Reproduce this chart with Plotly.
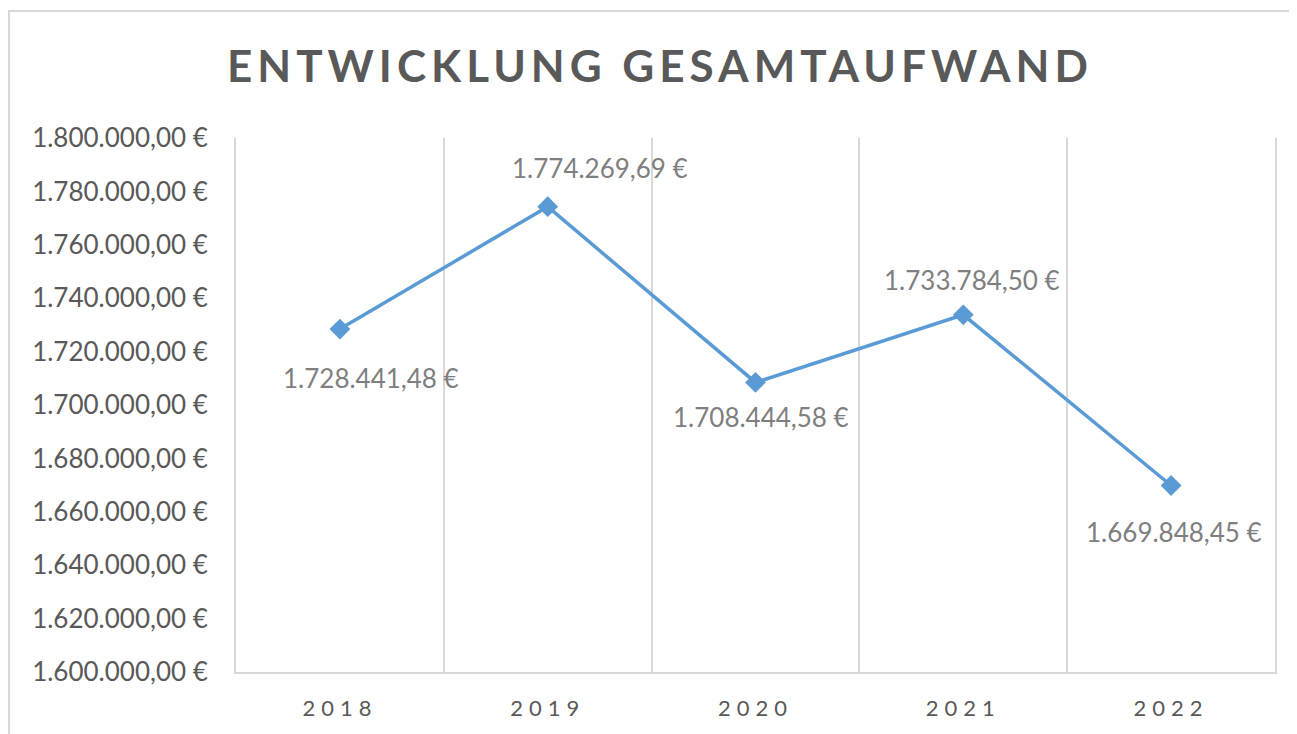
import plotly.graph_objects as go

years = ["2018", "2019", "2020", "2021", "2022"]
values = [1728441.48, 1774269.69, 1708444.58, 1733784.50, 1669848.45]
label_dx = [31, 52, 5, 9, 3]
label_dy = [-49, 39, -35, 35, -46]
y_ticks = [1600000 + 20000 * i for i in range(11)]
title_text = "ENTWICKLUNG GESAMTAUFWAND"

def fmt_eur(v):
    s = f"{v:,.2f}"
    s = s.replace(",", "X").replace(".", ",").replace("X", ".")
    return s + " €"

FONT = "Lato"
W, H = 1289, 726  # page body adds an 8px margin
L, R, T, B = 228, 22, 130, 62
PW, PH = W - L - R, H - T - B

fig = go.Figure()
fig.add_trace(go.Scatter(
    x=list(range(len(years))), y=values, mode="lines+markers",
    line=dict(color="#5b9bd5", width=3.5),
    marker=dict(symbol="diamond", size=16, color="#5b9bd5"),
    hoverinfo="skip", showlegend=False,
))

annotations = []
for i, (v, dx, dy) in enumerate(zip(values, label_dx, label_dy)):
    annotations.append(dict(
        x=i, y=v, xref="x", yref="y", text=fmt_eur(v), showarrow=False,
        xshift=dx, yshift=dy,
        font=dict(family=FONT, size=26, color="#7f7f7f"),
    ))

fig.update_layout(
    width=W, height=H,
    paper_bgcolor="white", plot_bgcolor="white",
    margin=dict(l=L, r=R, t=T, b=B),
    title=dict(
        text=f'<b><span style="letter-spacing:5px">{title_text}</span></b>',
        x=652 / W, xanchor="center", y=1 - 59 / H, yanchor="middle",
        font=dict(family=FONT, size=44, color="#595959"),
    ),
    xaxis=dict(
        type="linear", range=[-0.5, 4.5],
        showgrid=False,
        showline=True, linecolor="#d9d9d9", linewidth=2,
        ticks="", tickmode="array", tickvals=list(range(len(years))),
        ticktext=[f'<span style="letter-spacing:6px">{y}</span>' for y in years],
        tickfont=dict(family=FONT, size=22, color="#595959"),
        zeroline=False, ticklabelstandoff=16,
    ),
    xaxis2=dict(
        overlaying="x", range=[-0.5, 4.5], tickmode="array",
        tickvals=[i - 0.5 for i in range(len(years) + 1)],
        showticklabels=False, showgrid=True, gridcolor="#d9d9d9", gridwidth=2,
        zeroline=False, ticks="", showline=False,
    ),
    yaxis=dict(
        range=[1600000, 1800000], tickmode="array", tickvals=y_ticks,
        ticktext=[fmt_eur(t) for t in y_ticks],
        showgrid=False, zeroline=False, ticks="",
        showline=True, mirror=True, linecolor="#d9d9d9", linewidth=2,
        tickfont=dict(family=FONT, size=26, color="#595959"),
        ticklabelstandoff=21,
    ),
    annotations=annotations,
    shapes=[dict(type="rect", xref="paper", yref="paper",
                 x0=(1 - L) / PW, x1=1.2, y0=-0.3, y1=1 + (T - 3) / PH,
                 line=dict(color="#d9d9d9", width=2), layer="below")],
)
# invisible helper trace to activate the gridline axis
fig.add_trace(go.Scatter(x=[None], y=[None], xaxis="x2", showlegend=False, hoverinfo="skip"))

fig.write_html("out.html")
